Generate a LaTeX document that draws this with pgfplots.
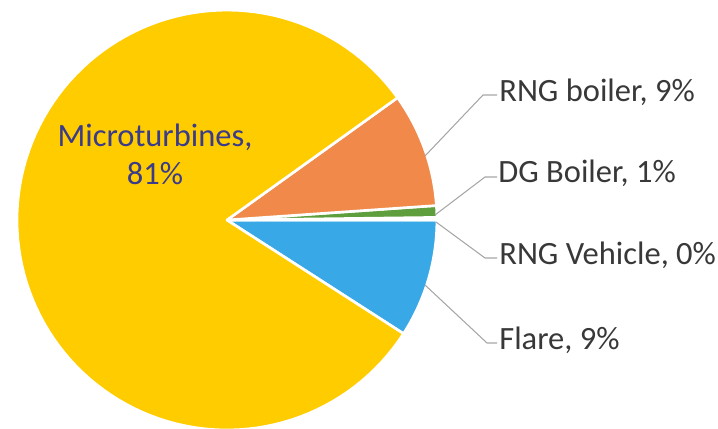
\documentclass[border=0pt]{standalone}
\usepackage{pgfplots}
\pgfplotsset{compat=1.18}
\usepackage{pgfplotstable}
\usepgfplotslibrary{polar}
\usepackage{fontspec}
\setmainfont{Carlito}
\definecolor{cMicro}{HTML}{FFCC00}
\definecolor{cBoiler}{HTML}{F0894A}
\definecolor{cDG}{HTML}{5E9E3C}
\definecolor{cVeh}{HTML}{A5A5A5}
\definecolor{cFlare}{HTML}{38A8E6}
\definecolor{lblcol}{HTML}{383838}
\definecolor{microcol}{HTML}{3A3B8A}
% shares in percent, in drawing order (counter-clockwise from the start angle)
\pgfplotstableread{
name     value  col
Flare    9.1    cFlare
Vehicle  0.2    cVeh
DG       0.9    cDG
Boiler   8.8    cBoiler
Micro    81.0   cMicro
}\piedata
\begin{document}
\begin{tikzpicture}[x=0.02cm,y=0.02cm]
\path[use as bounding box] (0,0) rectangle (718,429);
\begin{polaraxis}[
  at={(4.54cm,4.18cm)}, anchor=center,
  scale only axis, width=8.40cm, height=8.40cm,
  hide axis, clip=false,
  ymin=0, ymax=1,
]
\pgfmathsetmacro{\startang}{-32.76}
\pgfplotstablegetrowsof{\piedata}
\pgfmathtruncatemacro{\nrows}{\pgfplotsretval-1}
\pgfplotsforeachungrouped \i in {0,...,\nrows}{%
  \pgfplotstablegetelem{\i}{value}\of{\piedata}\let\val\pgfplotsretval
  \pgfplotstablegetelem{\i}{col}\of{\piedata}\let\col\pgfplotsretval
  \pgfmathsetmacro{\endang}{\startang+3.6*\val}
  \edef\doplot{\noexpand\addplot[fill=\col, draw=white, line width=1.5pt, line join=round, domain=\startang:\endang, samples=120] {1} -- (axis cs:0,0) -- cycle;}
  \doplot
  \global\let\startang\endang
}
\end{polaraxis}
\begin{scope}[gray!70, line width=0.6pt]
\draw (425,273) -- (483,334) -- (497,334);
\draw (435,214) -- (485,252) -- (497,252);
\draw (436,207) -- (485,171) -- (497,171);
\draw (425,144) -- (487,86) -- (497,86);
\end{scope}
\begin{scope}[font=\fontsize{18.5}{22}\selectfont, text=lblcol, inner sep=0pt]
\node[anchor=west] at (499,337) {RNG boiler, 9\%};
\node[anchor=west] at (498,256) {DG Boiler, 1\%};
\node[anchor=west] at (499,174) {RNG Vehicle, 0\%};
\node[anchor=west] at (499,89) {Flare, 9\%};
\node[text=microcol, align=center, font=\fontsize{18.5}{21.6}\selectfont] at (155,275) {Microturbines,\\81\%};
\end{scope}
\end{tikzpicture}
\end{document}
